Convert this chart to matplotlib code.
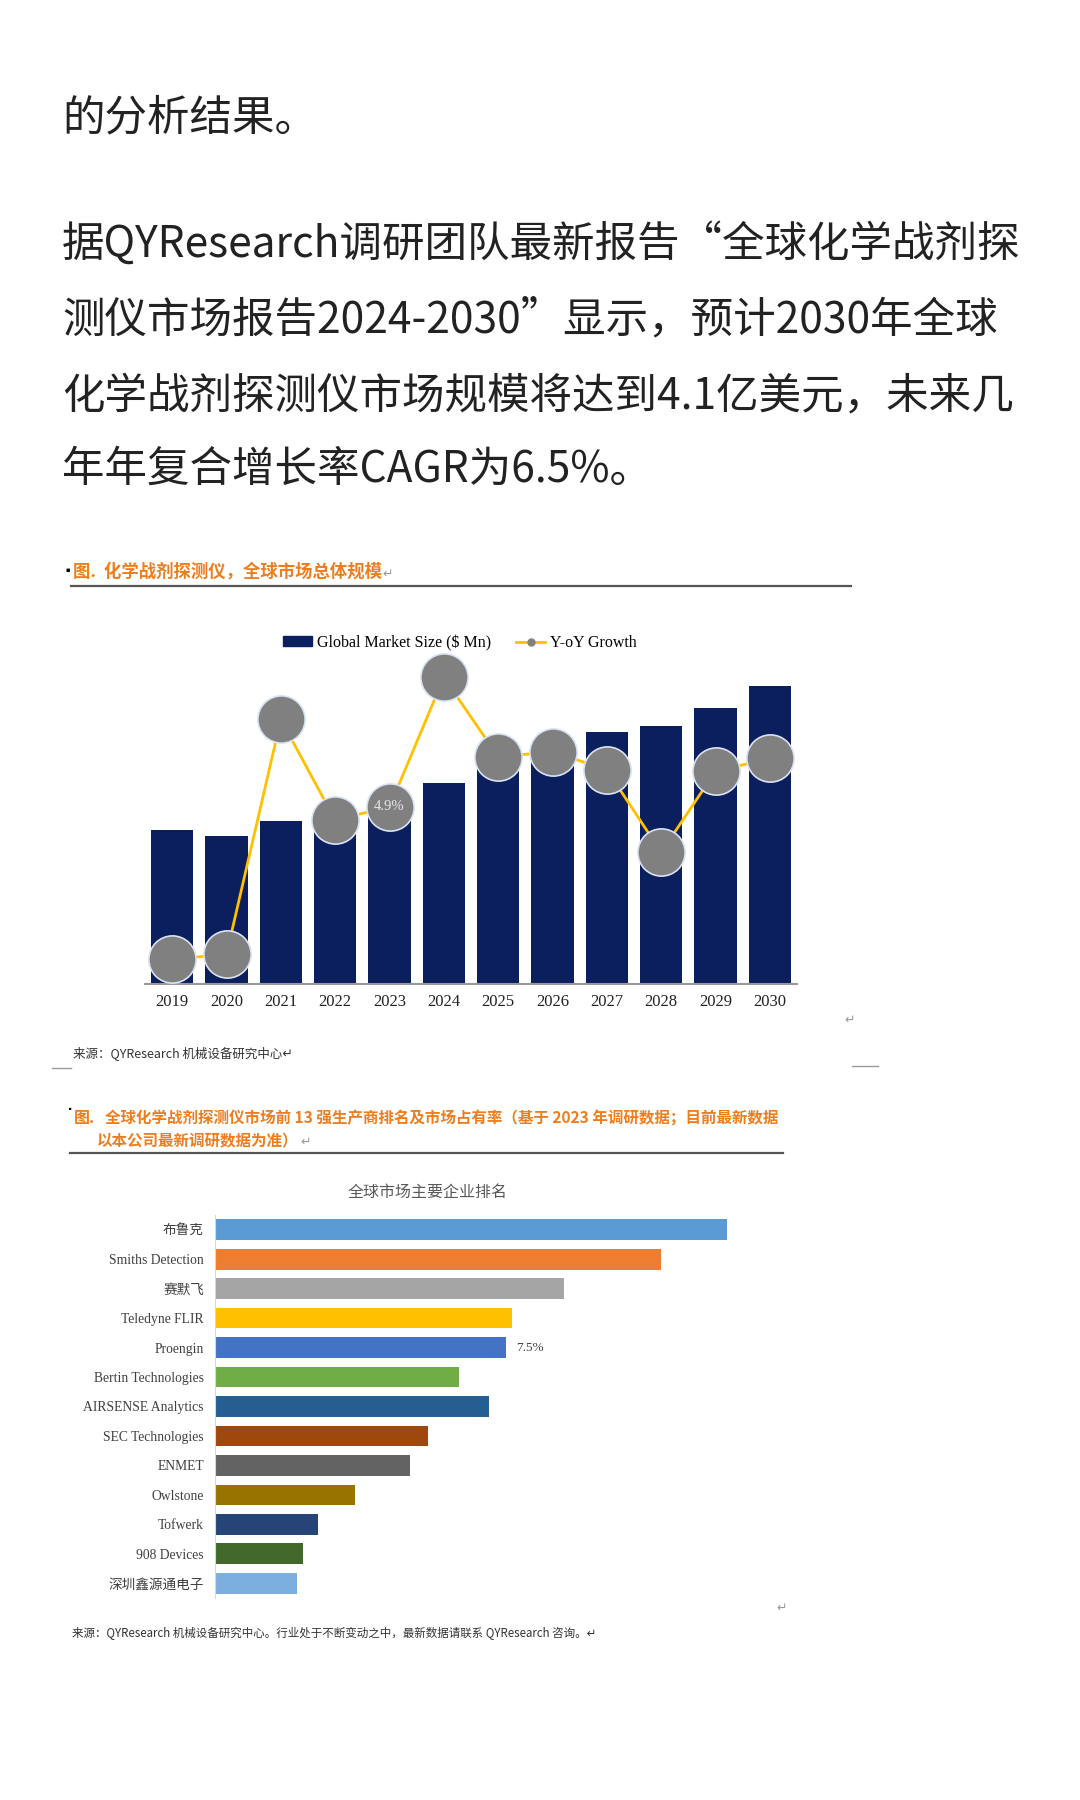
import numpy as np
import matplotlib
matplotlib.use('Agg')
import matplotlib.pyplot as plt
from matplotlib.patches import Patch
from matplotlib.lines import Line2D

# 图1 数据：全球市场规模 ($ Mn) 与同比增长
years = ['2019', '2020', '2021', '2022', '2023', '2024', '2025', '2026', '2027', '2028', '2029', '2030']
market_size = [212, 203, 224, 233, 244.5, 276, 299, 324, 347, 354.5, 380, 410]
yoy_growth = [-4.5, -4.2, 10.3, 4.1, 4.9, 12.9, 8.0, 8.3, 7.2, 2.1, 7.1, 7.9]
shown_label_year = '2023'

# 图2 数据：前13强企业市场占有率 (%)
companies = ['布鲁克', 'Smiths Detection', '赛默飞', 'Teledyne FLIR', 'Proengin',
             'Bertin Technologies', 'AIRSENSE Analytics', 'SEC Technologies', 'ENMET',
             'Owlstone', 'Tofwerk', '908 Devices', '深圳鑫源通电子']
shares = [13.2, 11.5, 9.0, 7.65, 7.5, 6.3, 7.05, 5.48, 5.03, 3.61, 2.65, 2.28, 2.11]
bar_colors = ['#5B9BD5', '#ED7D31', '#A5A5A5', '#FFC000', '#4472C4', '#70AD47', '#255E91',
              '#9E480E', '#636363', '#997300', '#264478', '#43682B', '#7CAFDD']
shown_share = 'Proengin'

W, H = 1080, 1800
fig = plt.figure(figsize=(W / 100, H / 100), dpi=100)
fig.patch.set_facecolor('white')

CJK = ['Noto Sans CJK SC', 'DejaVu Sans']
SERIF = ['Liberation Serif', 'Noto Sans CJK SC', 'DejaVu Sans']


def fx(x):
    return x / W


def fy(y):
    return 1 - y / H


def add_ax(x0, y0, x1, y1):
    return fig.add_axes([fx(x0), fy(y1), (x1 - x0) / W, (y1 - y0) / H])


def hline(x0, x1, y, color, lw):
    fig.add_artist(Line2D([fx(x0), fx(x1)], [fy(y), fy(y)], color=color, lw=lw,
                          transform=fig.transFigure))


# 正文
body = ['的分析结果。',
        '据QYResearch调研团队最新报告“全球化学战剂探',
        '测仪市场报告2024-2030”显示，预计2030年全球',
        '化学战剂探测仪市场规模将达到4.1亿美元，未来几',
        '年年复合增长率CAGR为6.5%。']
body_y = [118, 245, 320, 396, 470]
for line, y in zip(body, body_y):
    fig.text(fx(62), fy(y), line, fontsize=30.6, family=CJK, color='#222222',
             va='center', ha='left')

# ---------- 图1 ----------
fig.text(fx(62), fy(571), '▪', fontsize=9, family=CJK, color='black', va='center')
fig.text(fx(73), fy(572), '图.  化学战剂探测仪，全球市场总体规模', fontsize=12.5, family=CJK,
         color='#EE7D1E', weight='bold', va='center')
fig.text(fx(382), fy(574), '↵', fontsize=9, family=CJK, color='#999999', va='center')
hline(71, 851, 586, '#555555', 1.6)

ax1 = add_ax(145, 604, 797, 984)
x = np.arange(len(years))
ax1.bar(x, market_size, width=0.78, color='#0B1F5E', zorder=1)
ax1.set_xlim(-0.5, len(years) - 0.5)
ax1.set_ylim(0, 410 * 380 / 298)
ax1.set_yticks([])
ax1.set_xticks(x)
ax1.set_xticklabels(years, family=SERIF, fontsize=12, color='#222222')
ax1.tick_params(axis='x', length=0, pad=7)
for s in ['top', 'left', 'right']:
    ax1.spines[s].set_visible(False)
ax1.spines['bottom'].set_color('#999999')
ax1.spines['bottom'].set_linewidth(1.5)

ax1b = ax1.twinx()
ax1b.plot(x, yoy_growth, color='#FFC000', lw=2, marker='o', markersize=34,
          markerfacecolor='#808080', markeredgecolor='#DAE3F3', markeredgewidth=1.2, zorder=3)
ax1b.set_ylim(-6.03, 17.43)
ax1b.set_yticks([])
for s in ['top', 'left', 'right', 'bottom']:
    ax1b.spines[s].set_visible(False)
i = years.index(shown_label_year)
ax1b.text(x[i], yoy_growth[i], f'{yoy_growth[i]}%', family=SERIF, fontsize=10.5,
          color='#E6E6E6', ha='center', va='center', zorder=4)

handles = [Patch(color='#0B1F5E'),
           Line2D([], [], color='#FFC000', lw=2, marker='o', markersize=5,
                  markerfacecolor='#808080', markeredgecolor='#808080')]
fig.legend(handles, ['Global Market Size ($ Mn)', 'Y-oY Growth'], loc='center',
           bbox_to_anchor=(fx(460), fy(643)), ncol=2, frameon=False,
           prop={'family': SERIF, 'size': 11.5}, handlelength=1.8, handleheight=0.6,
           handletextpad=0.3, columnspacing=1.6)

fig.text(fx(844), fy(1020), '↵', fontsize=9, family=CJK, color='#999999', va='center')
fig.text(fx(73), fy(1053), '来源：QYResearch 机械设备研究中心↵', fontsize=9, family=CJK,
         style='italic', color='#333333', va='center')
hline(52, 71, 1068, '#999999', 1)
hline(852, 878, 1066, '#999999', 1)

# ---------- 图2 ----------
fig.text(fx(66), fy(1109), '▪', fontsize=6, family=CJK, color='black', va='center')
fig.text(fx(74), fy(1118), '图.', fontsize=11.5, family=CJK, color='#EE7D1E',
         weight='bold', va='center')
fig.text(fx(105), fy(1118), '全球化学战剂探测仪市场前 13 强生产商排名及市场占有率（基于 2023 年调研数据；目前最新数据',
         fontsize=11.2, family=CJK, color='#EE7D1E', weight='bold', va='center')
fig.text(fx(97), fy(1141), '以本公司最新调研数据为准）', fontsize=11.2, family=CJK,
         color='#EE7D1E', weight='bold', va='center')
fig.text(fx(300), fy(1142), '↵', fontsize=9, family=CJK, color='#999999', va='center')
hline(70, 783, 1153, '#555555', 1.6)

fig.text(fx(428), fy(1192), '全球市场主要企业排名', fontsize=11.5, family=CJK,
         color='#595959', ha='center', va='center')

ax2 = add_ax(215, 1215, 726 + 60, 1598)
y = np.arange(len(companies))
ax2.barh(y, shares, height=0.70, color=bar_colors)
ax2.set_ylim(len(companies) - 0.5, -0.5)
ax2.set_xlim(0, (726 + 60 - 215) / 38.8)
ax2.set_xticks([])
ax2.set_yticks(y)
ax2.set_yticklabels(companies, family=SERIF, fontsize=9.8, color='#404040')
ax2.tick_params(axis='y', length=0, pad=8)
for s in ['top', 'right', 'bottom']:
    ax2.spines[s].set_visible(False)
ax2.spines['left'].set_color('#D9D9D9')
j = companies.index(shown_share)
ax2.text(shares[j] + 0.25, y[j], f'{shares[j]}%', family=SERIF, fontsize=9.5,
         color='#404040', va='center', ha='left')

fig.text(fx(776), fy(1608), '↵', fontsize=9, family=CJK, color='#999999', va='center')
fig.text(fx(72), fy(1633), '来源：QYResearch 机械设备研究中心。行业处于不断变动之中，最新数据请联系 QYResearch 咨询。↵',
         fontsize=8.3, family=CJK, style='italic', color='#333333', va='center')

fig.savefig('out.png', dpi=100)
